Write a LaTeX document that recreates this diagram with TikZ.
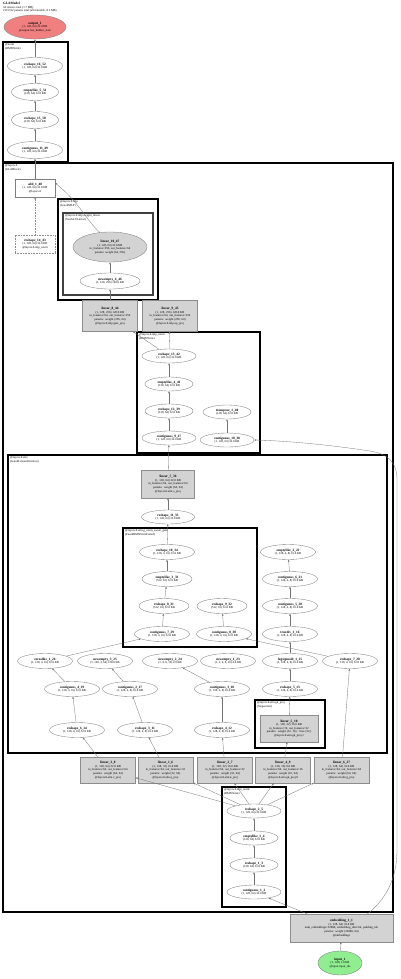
\documentclass[tikz,border=0pt]{standalone}
\usepackage{fontspec}
\setmainfont{Liberation Serif}
\usetikzlibrary{shapes.geometric,arrows.meta}
\definecolor{outred}{RGB}{240,128,128}
\definecolor{ingreen}{RGB}{144,238,144}
\definecolor{boxgray}{RGB}{211,211,211}
\newcommand\nmx[1]{{\bfseries\fontsize{3.4}{4}\selectfont #1}\\}
\begin{document}
\begin{tikzpicture}[x=1pt,y=-1pt,font=\fontsize{3}{3.6}\selectfont,
 el/.style={ellipse,draw=black!50,line width=0.35pt,fill=white,minimum width=55pt,minimum height=15pt,inner sep=0pt,align=center},
 gb/.style={rectangle,draw=black!45,fill=boxgray,line width=0.35pt,minimum width=55pt,minimum height=26pt,inner sep=0pt,text width=53pt,align=center},
 wb/.style={rectangle,draw=black!50,fill=white,line width=0.35pt,minimum width=40pt,minimum height=18pt,inner sep=0pt,align=center},
 cl/.style={draw=black,line width=1.1pt},
 cll/.style={anchor=north west,align=left,inner sep=0pt},
 e/.style={-{Stealth[length=2.2pt,width=1.8pt]},draw=black!55,line width=0.3pt},
 dotb/.style={draw=black!45,dash pattern=on 0.8pt off 0.8pt},
]
\useasboundingbox (0,0) rectangle (400,979);

% header
\node[cll] (hdr) at (3,2) {{\bfseries\fontsize{3.4}{4}\selectfont GLAModel}\\34 tensors total (1.7 MB)\\2115312 params total (all trainable, 8.1 MB)};

% clusters
\draw[cl] (3,42) rectangle (68,162);
\node[cll] (lnorm) at (5,43.5) {@norm\\(RMSNorm)};
\draw[cl] (3,163) rectangle (393,912);
\node[cll] (llay) at (5,164.5) {@layers.0\\(GLABlock)};
\draw[cl] (58,199) rectangle (158,300);
\node[cll] (lmlp) at (60,200.5) {@layers.0.mlp\\(GatedMLP)};
\draw[cl,draw=black!75] (63,213) rectangle (153,295);
\node[cll] (lswi) at (65,214.5) {@layers.0.mlp.swiglu\_linear\\(SwiGLULinear)};
\draw[cl] (137,332) rectangle (260,453);
\node[cll] (lmn) at (139,333.5) {@layers.0.mlp\_norm\\(RMSNorm)};
\draw[cl] (8,455) rectangle (387,753);
\node[cll] (lattn) at (10,456.5) {@layers.0.attn\\(GatedLinearAttention)};
\draw[cl] (123,528) rectangle (257,647);
\node[cll] (lgn) at (125,529.5) {@layers.0.attn.g\_norm\_swish\_gate\\(FusedRMSNormGated)};
\draw[cl] (255,700) rectangle (325,748);
\node[cll] (lgk) at (257,701.5) {@layers.0.attn.gk\_proj\\(Sequential)};
\draw[cl] (222,787) rectangle (286,907);
\node[cll] (lan) at (224,788.5) {@layers.0.attn\_norm\\(RMSNorm)};

% output and final norm
\node[el,fill=outred,minimum width=62pt,minimum height=24pt] (out) at (35,27) {\nmx{output\_1}(1, 128, 64) 32.0 KB\\@output.last\_hidden\_state};
\node[el,minimum height=17pt] (r1652) at (35,66) {\nmx{reshape\_16\_52}(1, 128, 64) 32.0 KB};
\node[el,minimum height=17pt,minimum width=47pt] (e551) at (35,92) {\nmx{emptylike\_5\_51}(128, 64) 32.0 KB};
\node[el,minimum height=17pt,minimum width=47pt] (r1550) at (35,120) {\nmx{reshape\_15\_50}(128, 64) 32.0 KB};
\node[el,minimum height=17pt] (c1149) at (35,150) {\nmx{contiguous\_11\_49}(1, 128, 64) 32.0 KB};

% block level
\node[wb] (add) at (35,188) {\nmx{add\_1\_48}(1, 128, 64) 32.0 KB\\@layers.0};
\node[wb,dotb] (r1443) at (35,244) {\nmx{reshape\_14\_43}(1, 128, 64) 32.0 KB\\@layers.0.mlp\_norm};

% mlp
\node[el,fill=boxgray,minimum width=74pt,minimum height=30pt] (l1047) at (110,247) {\nmx{linear\_10\_47}(1, 128, 64) 32.0 KB\\in\_features=256, out\_features=64\\params: weight (64, 256)};
\node[el,minimum width=60pt,minimum height=16pt] (ne446) at (110,281) {\nmx{newempty\_4\_46}(1, 128, 256) 128.0 KB};
\node[gb,minimum height=31pt] (l844) at (110,316) {\nmx{linear\_8\_44}(1, 128, 256) 128.0 KB\\in\_features=64, out\_features=256\\params: weight (256, 64)\\@layers.0.mlp.gate\_proj};
\node[gb,minimum height=31pt] (l945) at (170,316) {\nmx{linear\_9\_45}(1, 128, 256) 128.0 KB\\in\_features=64, out\_features=256\\params: weight (256, 64)\\@layers.0.mlp.up\_proj};

% mlp_norm
\node[el,minimum width=54pt,minimum height=14pt] (r1342) at (169,356) {\nmx{reshape\_13\_42}(1, 128, 64) 32.0 KB};
\node[el,minimum width=48pt,minimum height=14pt] (e441) at (169,384) {\nmx{emptylike\_4\_41}(128, 64) 32.0 KB};
\node[el,minimum width=48pt,minimum height=14pt] (r1239) at (169,411) {\nmx{reshape\_12\_39}(128, 64) 32.0 KB};
\node[el,minimum width=54pt,minimum height=14pt] (c937) at (169,438) {\nmx{contiguous\_9\_37}(1, 128, 64) 32.0 KB};
\node[el,minimum width=48pt,minimum height=14pt] (t140) at (227,412) {\nmx{transpose\_1\_40}(128, 64) 32.0 KB};
\node[el,minimum width=54pt,minimum height=14pt] (c1038) at (227,440) {\nmx{contiguous\_10\_38}(1, 128, 64) 32.0 KB};

% attn
\node[gb,minimum width=53pt,text width=51pt,minimum height=28pt] (l736) at (168,484) {\nmx{linear\_7\_36}(1, 128, 64) 32.0 KB\\in\_features=64, out\_features=64\\params: weight (64, 64)\\@layers.0.attn.o\_proj};
\node[el,minimum width=53pt,minimum height=14pt] (r1135) at (168,517) {\nmx{reshape\_11\_35}(1, 128, 64) 32.0 KB};
\node[el] (r1034) at (167,552) {\nmx{reshape\_10\_34}(1, 128, 4, 16) 32.0 KB};
\node[el,minimum width=50pt] (e333) at (167,579) {\nmx{emptylike\_3\_33}(512, 16) 32.0 KB};
\node[el,minimum width=50pt] (r831) at (164,606) {\nmx{reshape\_8\_31}(512, 16) 32.0 KB};
\node[el] (c729) at (162,634) {\nmx{contiguous\_7\_29}(1, 128, 4, 16) 32.0 KB};
\node[el,minimum width=50pt] (r932) at (222,606) {\nmx{reshape\_9\_32}(512, 16) 32.0 KB};
\node[el] (c830) at (224,634) {\nmx{contiguous\_8\_30}(1, 128, 4, 16) 32.0 KB};

\node[el] (e222) at (288,552) {\nmx{emptylike\_2\_22}(1, 128, 4, 8) 16.0 KB};
\node[el] (c621) at (290,579) {\nmx{contiguous\_6\_21}(1, 128, 4, 8) 16.0 KB};
\node[el] (c520) at (290,606) {\nmx{contiguous\_5\_20}(1, 128, 4, 8) 16.0 KB};
\node[el] (td116) at (290,634) {\nmx{truediv\_1\_16}(1, 128, 4, 8) 16.0 KB};
\node[el] (ls115) at (290,661) {\nmx{logsigmoid\_1\_15}(1, 128, 4, 8) 16.0 KB};
\node[el] (r513) at (290,689) {\nmx{reshape\_5\_13}(1, 128, 4, 8) 16.0 KB};

\node[el] (zl126) at (45,661) {\nmx{zeroslike\_1\_26}(1, 128, 4, 16) 32.0 KB};
\node[el] (ne325) at (105,661) {\nmx{newempty\_3\_25}(1, 128, 4, 64) 128.0 KB};
\node[el] (ne224) at (170,661) {\nmx{newempty\_2\_24}(1, 4, 8, 16) 2.0 KB};
\node[el] (ne123) at (228,661) {\nmx{newempty\_1\_23}(1, 2, 4, 8, 16) 4.0 KB};
\node[el] (r728) at (350,661) {\nmx{reshape\_7\_28}(1, 128, 4, 16) 32.0 KB};

\node[el] (c419) at (72,689) {\nmx{contiguous\_4\_19}(1, 128, 4, 16) 32.0 KB};
\node[el] (c217) at (130,689) {\nmx{contiguous\_2\_17}(1, 128, 4, 8) 16.0 KB};
\node[el] (c318) at (222,689) {\nmx{contiguous\_3\_18}(1, 128, 4, 8) 16.0 KB};

\node[el] (r614) at (77,730) {\nmx{reshape\_6\_14}(1, 128, 4, 16) 32.0 KB};
\node[el] (r311) at (145,730) {\nmx{reshape\_3\_11}(1, 128, 4, 8) 16.0 KB};
\node[el] (r412) at (222,730) {\nmx{reshape\_4\_12}(1, 128, 4, 8) 16.0 KB};

\node[gb,minimum width=58pt,text width=56pt,minimum height=27pt] (l510) at (289,728.5) {\nmx{linear\_5\_10}(1, 128, 32) 16.0 KB\\in\_features=16, out\_features=32\\params: weight (32, 16) · bias (32,)\\@layers.0.attn.gk\_proj.1};

% projections
\node[gb] (l38) at (108,770) {\nmx{linear\_3\_8}(1, 128, 64) 32.0 KB\\in\_features=64, out\_features=64\\params: weight (64, 64)\\@layers.0.attn.v\_proj};
\node[gb] (l16) at (165.5,770) {\nmx{linear\_1\_6}(1, 128, 32) 16.0 KB\\in\_features=64, out\_features=32\\params: weight (32, 64)\\@layers.0.attn.q\_proj};
\node[gb] (l27) at (225,770) {\nmx{linear\_2\_7}(1, 128, 32) 16.0 KB\\in\_features=64, out\_features=32\\params: weight (32, 64)\\@layers.0.attn.k\_proj};
\node[gb] (l49) at (283,770) {\nmx{linear\_4\_9}(1, 128, 16) 8.0 KB\\in\_features=64, out\_features=16\\params: weight (16, 64)\\@layers.0.attn.gk\_proj.0};
\node[gb] (l627) at (341.5,770) {\nmx{linear\_6\_27}(1, 128, 64) 32.0 KB\\in\_features=64, out\_features=64\\params: weight (64, 64)\\@layers.0.attn.g\_proj};

% attn_norm
\node[el,minimum width=54pt,minimum height=14pt] (r25) at (254,811) {\nmx{reshape\_2\_5}(1, 128, 64) 32.0 KB};
\node[el,minimum width=48pt,minimum height=14pt] (e14) at (254,838) {\nmx{emptylike\_1\_4}(128, 64) 32.0 KB};
\node[el,minimum width=48pt,minimum height=14pt] (r13) at (254,865) {\nmx{reshape\_1\_3}(128, 64) 32.0 KB};
\node[el,minimum width=54pt,minimum height=14pt] (c12) at (254,892) {\nmx{contiguous\_1\_2}(1, 128, 64) 32.0 KB};

% embedding and input
\node[gb,minimum width=103pt,text width=101pt,minimum height=28pt] (emb) at (341.5,928) {\nmx{embedding\_1\_1}(1, 128, 64) 32.0 KB\\num\_embeddings=32000, embedding\_dim=64, padding\_idx\\params: weight (32000, 64)\\@embeddings};
\node[el,fill=ingreen,minimum width=44pt,minimum height=24pt] (inp) at (340,963) {\nmx{input\_1}(1, 128) 1.0 KB\\@input.input\_ids};

% edges
\draw[e] (r1652) -- (out);
\draw[e] (e551) -- (r1652);
\draw[e] (r1550) -- (e551);
\draw[e] (c1149) -- (r1550);
\draw[e] (add) -- (c1149);
\draw[e,dotb] (r1443) -- (add);
\draw[e] (l1047.125) .. controls (86,220) and (80,203) .. ([yshift=5pt]add.east);
\draw[e] (ne446) -- (l1047);
\draw[e] (l844) -- (ne446);
\draw[e] (r1342) -- (l844);
\draw[e] (r1342) -- (l945);
\draw[e] (e441) -- (r1342);
\draw[e] (r1239) -- (e441);
\draw[e] (c937) -- (r1239);
\draw[e] (c1038) -- (t140);
\draw[e] (l736) -- (c937);
\draw[e] (r1135) -- (l736);
\draw[e] (r1034) -- (r1135);
\draw[e] (e333) -- (r1034);
\draw[e] (r831) -- (e333);
\draw[e] (c729) -- (r831);
\draw[e] (c830) -- (r932);
\draw[e] (zl126) -- (c729);
\draw[e] (r728) -- (c830);
\draw[e] (c621) -- (e222);
\draw[e] (c520) -- (c621);
\draw[e] (td116) -- (c520);
\draw[e] (ls115) -- (td116);
\draw[e] (r513) -- (ls115);
\draw[e] (c419) -- (zl126);
\draw[e] (c217) -- (ne325);
\draw[e] (c318) -- (ne224);
\draw[e] (r614) -- (c419);
\draw[e] (r311) -- (c217);
\draw[e] (r412) -- (c318);
\draw[e] (l510) -- (r513);
\draw[e] (l38) -- (r614);
\draw[e] (l16) -- (r311);
\draw[e] (l27) -- (r412);
\draw[e] (l49) -- (l510);
\draw[e] (l627) -- (r728);
\draw[e] (r25) -- (l38);
\draw[e] (r25) -- (l16);
\draw[e] (r25) -- (l27);
\draw[e] (r25) -- (l49);
\draw[e] (r25) -- (l627);
\draw[e] (e14) -- (r25);
\draw[e] (r13) -- (e14);
\draw[e] (c12) -- (r13);
\draw[e] (emb) -- (c12);
\draw[e] ([xshift=26pt]emb.north) .. controls (385,900) and (397,880) .. (397,850) -- (397,480) .. controls (397,462) and (388,454) .. (370,451) .. controls (330,445) and (290,441) .. (c1038.east);
\draw[e] (inp) -- (emb);
\end{tikzpicture}
\end{document}
